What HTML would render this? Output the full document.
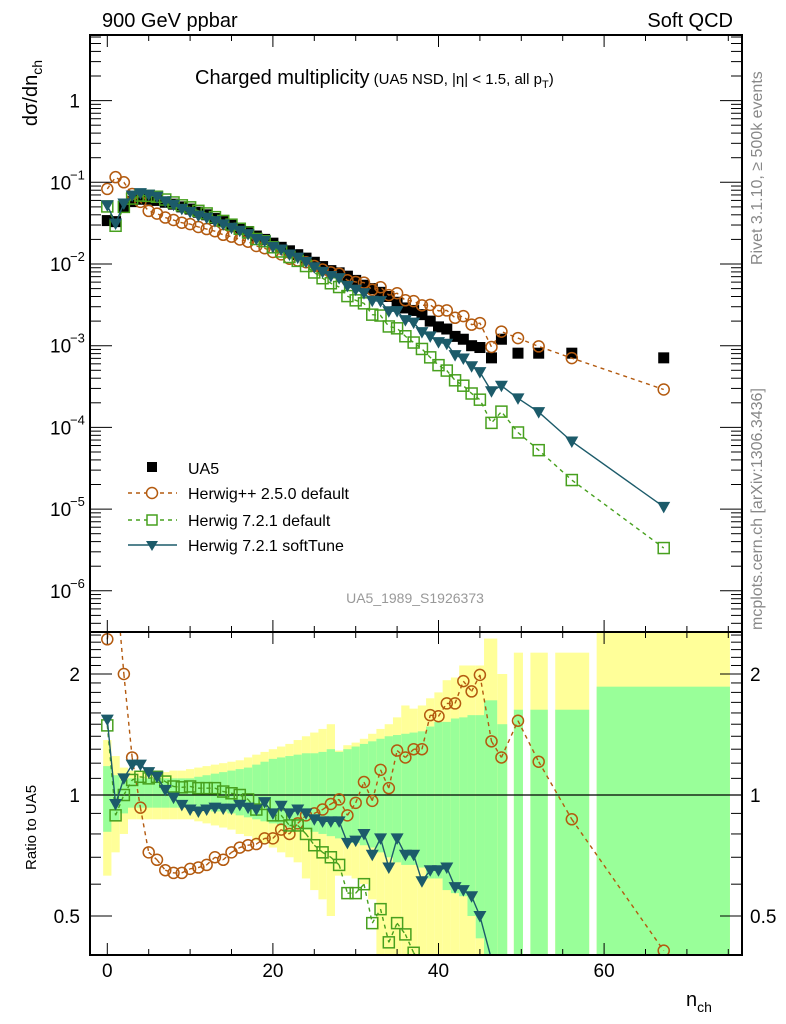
<!DOCTYPE html>
<html><head><meta charset="utf-8"><style>
html,body{margin:0;padding:0;background:#fff;width:786px;height:1024px;overflow:hidden}
svg{font-family:"Liberation Sans",sans-serif;display:block}
</style></head><body>
<svg id="c" width="786" height="1024" viewBox="0 0 786 1024" xmlns="http://www.w3.org/2000/svg" style="position:absolute;left:0;top:0"></svg>
<script>
const xs=[0,1,2,3,4,5,6,7,8,9,10,11,12,13,14,15,16,17,18,19,20,21,22,23,24,25,26,27,28,29,30,31,32,33,34,35,36,37,38,39,40,41,42,43,44,45,46.4,47.6,49.6,52.1,56.1,67.2];
const binLo=[-0.5,0.5,1.5,2.5,3.5,4.5,5.5,6.5,7.5,8.5,9.5,10.5,11.5,12.5,13.5,14.5,15.5,16.5,17.5,18.5,19.5,20.5,21.5,22.5,23.5,24.5,25.5,26.5,27.5,28.5,29.5,30.5,31.5,32.5,33.5,34.5,35.5,36.5,37.5,38.5,39.5,40.5,41.5,42.5,43.5,44.5,45.5,47.1,49.1,51.1,54.1,59.1];
const binHi=[0.5,1.5,2.5,3.5,4.5,5.5,6.5,7.5,8.5,9.5,10.5,11.5,12.5,13.5,14.5,15.5,16.5,17.5,18.5,19.5,20.5,21.5,22.5,23.5,24.5,25.5,26.5,27.5,28.5,29.5,30.5,31.5,32.5,33.5,34.5,35.5,36.5,37.5,38.5,39.5,40.5,41.5,42.5,43.5,44.5,45.5,47.1,48.3,50.2,53.2,58.2,75.2];
const ua5=[0.034,0.033,0.05,0.058,0.062,0.062,0.06,0.057,0.054,0.05,0.047,0.043,0.040,0.036,0.033,0.030,0.027,0.025,0.022,0.020,0.018,0.016,0.0145,0.013,0.0118,0.0105,0.0093,0.0083,0.0078,0.0071,0.0063,0.0055,0.0050,0.0045,0.0040,0.0034,0.0029,0.0027,0.0024,0.0020,0.0017,0.0016,0.0013,0.0012,0.0010,0.00095,0.00071,0.0012,0.00081,0.00081,0.00081,0.00071];
const rHwpp=[2.44,3.5,2.0,1.24,0.93,0.72,0.69,0.65,0.64,0.64,0.655,0.66,0.67,0.70,0.69,0.72,0.74,0.75,0.755,0.78,0.78,0.82,0.80,0.85,0.89,0.90,0.92,0.95,0.975,0.89,0.956,1.077,0.967,1.155,1.04,1.29,1.24,1.30,1.30,1.58,1.57,1.69,1.69,1.92,1.81,1.99,1.36,1.24,1.53,1.21,0.87,0.41];
const rHw721=[1.49,0.89,1.0,1.09,1.11,1.10,1.11,1.08,1.05,1.045,1.05,1.04,1.04,1.04,1.02,1.01,1.0,0.975,0.92,0.95,0.89,0.89,0.84,0.84,0.80,0.75,0.72,0.70,0.67,0.57,0.57,0.60,0.48,0.52,0.43,0.48,0.45,0.405,0.38,0.36,0.34,0.31,0.29,0.27,0.26,0.23,0.16,0.13,0.107,0.065,0.028,0.0047];
const rSoft=[1.54,0.95,1.10,1.19,1.19,1.14,1.11,1.03,0.985,0.945,0.92,0.91,0.92,0.93,0.925,0.925,0.945,0.93,0.92,0.96,0.90,0.94,0.90,0.92,0.90,0.87,0.86,0.86,0.86,0.76,0.77,0.80,0.71,0.78,0.66,0.78,0.71,0.71,0.61,0.65,0.65,0.66,0.59,0.58,0.56,0.50,0.39,0.27,0.28,0.19,0.083,0.015];
const yHi=[1.37,1.25,1.17,1.15,1.14,1.14,1.14,1.14,1.15,1.15,1.16,1.17,1.18,1.19,1.2,1.21,1.22,1.24,1.26,1.28,1.30,1.32,1.34,1.37,1.40,1.43,1.46,1.50,1.29,1.33,1.35,1.38,1.42,1.46,1.50,1.56,1.67,1.64,1.67,1.74,1.80,1.93,1.96,2.1,2.1,2.1,2.45,2.0,2.26,2.26,2.26,3.0];
const yLo=[0.63,0.72,0.80,0.87,0.87,0.87,0.87,0.87,0.87,0.87,0.87,0.86,0.85,0.84,0.83,0.82,0.80,0.79,0.77,0.76,0.74,0.72,0.70,0.68,0.62,0.58,0.55,0.50,0.63,0.63,0.62,0.60,0.55,0.3,0.3,0.3,0.3,0.3,0.3,0.3,0.3,0.3,0.3,0.3,0.3,0.3,0.3,0.3,0.3,0.3,0.3,0.3];
const gHi=[1.18,1.12,1.09,1.10,1.10,1.10,1.10,1.10,1.10,1.10,1.10,1.11,1.12,1.13,1.14,1.15,1.16,1.17,1.19,1.21,1.23,1.24,1.25,1.26,1.27,1.27,1.28,1.30,1.28,1.30,1.32,1.34,1.36,1.38,1.40,1.41,1.42,1.43,1.44,1.48,1.52,1.52,1.55,1.56,1.58,1.58,1.72,1.5,1.63,1.63,1.63,1.86];
const gLo=[0.81,0.86,0.90,0.93,0.93,0.93,0.93,0.93,0.93,0.93,0.93,0.92,0.92,0.91,0.91,0.90,0.89,0.88,0.87,0.86,0.85,0.84,0.83,0.82,0.82,0.81,0.80,0.79,0.78,0.77,0.76,0.75,0.74,0.72,0.70,0.68,0.67,0.67,0.66,0.62,0.62,0.58,0.57,0.56,0.50,0.44,0.3,0.3,0.3,0.3,0.3,0.3];
const xTickLabels=[0,20,40,60];
const yTickLabels=["1","10","10","10","10","10","10"];

const NS="http://www.w3.org/2000/svg",svg=document.getElementById('c');
const L=90,R=742,T=35,MB=632,B=955;
const X=v=>107.3+8.28*v;
const Y=v=>100.6-81.7*Math.log10(v);
const RY=r=>795-121*Math.log2(r);
function el(tag,a,parent){const e=document.createElementNS(NS,tag);for(const k in a)e.setAttribute(k,a[k]);(parent||svg).appendChild(e);return e;}
const defs=el('defs',{});
const cp1=el('clipPath',{id:'cm'},defs);el('rect',{x:L,y:T,width:R-L,height:MB-T},cp1);
const cp2=el('clipPath',{id:'cr'},defs);el('rect',{x:L,y:MB,width:R-L,height:B-MB},cp2);
const gMain=el('g',{'clip-path':'url(#cm)'});


const gRat=el('g',{'clip-path':'url(#cr)'});



function clipLine(pts,ymin,ymax){
  // returns path d, clipping each segment to [ymin,ymax]
  let d='';
  for(let i=0;i<pts.length-1;i++){
    let [x0,y0]=pts[i],[x1,y1]=pts[i+1];
    if((y0<ymin&&y1<ymin)||(y0>ymax&&y1>ymax))continue;
    const cl=(xa,ya,xb,yb)=>{
      if(ya<ymin){const t=(ymin-ya)/(yb-ya);return [xa+t*(xb-xa),ymin];}
      if(ya>ymax){const t=(ymax-ya)/(yb-ya);return [xa+t*(xb-xa),ymax];}
      return [xa,ya];
    };
    const a=cl(x0,y0,x1,y1),b=cl(x1,y1,x0,y0);
    d+=`M${a[0].toFixed(2)},${a[1].toFixed(2)}L${b[0].toFixed(2)},${b[1].toFixed(2)}`;
  }
  return d;
}

for(let i=0;i<xs.length;i++){
  const x0=X(binLo[i]),x1=X(Math.min(binHi[i],75.3));
  const yt=Math.max(MB,RY(yHi[i])),ybt=Math.min(B,RY(yLo[i]));
  const yb=el('rect',{x:x0,y:yt,width:x1-x0,height:ybt-yt,fill:'#ffff99'},gRat);
  
  
  const gt=Math.max(MB,RY(gHi[i])),gbt=Math.min(B,RY(gLo[i]));
  const gb=el('rect',{x:x0,y:gt,width:x1-x0,height:gbt-gt,fill:'#99ff99'},gRat);
  
  
}
const one=el('line',{x1:L,x2:R,y1:RY(1),y2:RY(1),stroke:'#000','stroke-width':1.3},gRat);



const series=[
 {name:'herwigpp-250',r:rHwpp,col:'#b35a0f',dash:'4,4',m:'circle'},
 {name:'herwig-721-default',r:rHw721,col:'#47a01e',dash:'4,4',m:'square'},
 {name:'herwig-721-softtune',r:rSoft,col:'#1c5b6a',dash:'',m:'tri'}
];
function marker(g,m,x,y,col,nm){
  let e;
  if(m==='circle')e=el('circle',{cx:x,cy:y,r:5.5,fill:'none',stroke:col,'stroke-width':1.5},g);
  else if(m==='square')e=el('rect',{x:x-5.5,y:y-5.5,width:11,height:11,fill:'none',stroke:col,'stroke-width':1.5},g);
  else if(m==='tri')e=el('path',{d:`M${x-6.5},${y-5}L${x+6.5},${y-5}L${x},${y+6.5}Z`,fill:col},g);
  else e=el('rect',{x:x-5.5,y:y-5.5,width:11,height:11,fill:col},g);
  
  
}
for(let i=0;i<xs.length;i++){marker(gMain,'ua5',X(xs[i]),Y(ua5[i]),'#000','ua5-point');}
series.forEach(s=>{
  const pm=xs.map((x,i)=>X(x)+','+Y(ua5[i]*s.r[i])).join(' ');
  const l1=el('polyline',{points:pm,fill:'none',stroke:s.col,'stroke-width':1.4,'stroke-dasharray':s.dash},gMain);
  
  
  const pr=xs.map((x,i)=>[X(x),RY(s.r[i])]);
  const l2=el('path',{d:clipLine(pr,MB-8,B+8),fill:'none',stroke:s.col,'stroke-width':1.4,'stroke-dasharray':s.dash},gRat);
  
  
  for(let i=0;i<xs.length;i++){
    marker(gMain,s.m,X(xs[i]),Y(ua5[i]*s.r[i]),s.col,s.name+'-point');
    const ry=RY(s.r[i]);
    if(ry>MB-8&&ry<B+8)marker(gRat,s.m,X(xs[i]),ry,s.col,s.name+'-ratio-point');
  }
});
const f1=el('rect',{x:L,y:T,width:R-L,height:MB-T,fill:'none',stroke:'#000','stroke-width':2});

const f2=el('rect',{x:L,y:MB,width:R-L,height:B-MB,fill:'none',stroke:'#000','stroke-width':2});

for(let v=0;v<=75;v+=5){
  const len=v%20===0?12:6,x=X(v);
  [[T,1],[MB,-1],[MB,1],[B,-1]].forEach(([y,d])=>{
    const t=el('line',{x1:x,x2:x,y1:y,y2:y+d*len,stroke:'#000','stroke-width':1});
    
  });
}
xTickLabels.forEach(v=>{
  const t=el('text',{x:X(v),y:977,'font-size':19,'text-anchor':'middle'});t.textContent=v;
  
});
for(let d=-7;d<=0;d++){
  for(let k=1;k<=9;k++){
    const y=Y(k*Math.pow(10,d));if(y<T||y>MB)continue;
    const len=k===1?22:11;
    [[L,1],[R,-1]].forEach(([x,s])=>{const t=el('line',{x1:x,x2:x+s*len,y1:y,y2:y,stroke:'#000','stroke-width':1});
      });
  }
}
yTickLabels.forEach((lab,i)=>{
  const y=Y(Math.pow(10,-i));
  const t=el('text',{x:i===0?80:50,y:y+7,'font-size':19,'text-anchor':i===0?'end':'start'});t.textContent=lab;
  
  if(i>0){const s=el('text',{x:70,y:y-3,'font-size':13});s.textContent='−'+i;
    }
});
[0.4,0.5,0.6,0.7,0.8,0.9,1,1.1,1.2,1.3,1.4,1.5,1.6,1.7,1.8,1.9,2,2.1,2.2,2.3,2.4,2.5].forEach(r=>{
  const y=RY(r);if(y<MB||y>B)return;const maj=(r===0.5||r===1||r===2);const len=maj?22:11;
  [[L,1],[R,-1]].forEach(([x,s])=>{const t=el('line',{x1:x,x2:x+s*len,y1:y,y2:y,stroke:'#000','stroke-width':1});
    });
});
[["2",2],["1",1],["0.5",0.5]].forEach(([lab,r])=>{
  const a=el('text',{x:80,y:RY(r)+7,'font-size':19,'text-anchor':'end'});a.textContent=lab;
  
  const b=el('text',{x:750,y:RY(r)+7,'font-size':19});b.textContent=lab;
  
});
</script>
<svg width="786" height="1024" style="position:absolute;left:0;top:0" xmlns="http://www.w3.org/2000/svg" font-family="Liberation Sans, sans-serif">
<text x="102" y="27" font-size="20">900 GeV ppbar</text>
<text x="733" y="27" font-size="20" text-anchor="end">Soft QCD</text>
<text transform="translate(37,60) rotate(-90)" font-size="20" text-anchor="end">dσ/dn<tspan font-size="14" dy="5">ch</tspan></text>
<text x="195" y="84" font-size="20">Charged multiplicity<tspan font-size="15"> (UA5 NSD, |η| &lt; 1.5, all p</tspan><tspan font-size="11" dy="4">T</tspan><tspan font-size="15" dy="-4">)</tspan></text>
<text transform="translate(762,265) rotate(-90)" font-size="16" fill="#888">Rivet 3.1.10, ≥ 500k events</text>
<text transform="translate(762,630) rotate(-90)" font-size="16" fill="#888">mcplots.cern.ch [arXiv:1306.3436]</text>
<text x="415" y="603" font-size="14" fill="#999" text-anchor="middle">UA5_1989_S1926373</text>
<text transform="translate(36,870) rotate(-90)" font-size="15">Ratio to UA5</text>
<text x="686" y="1006" font-size="20">n<tspan font-size="14" dy="6">ch</tspan></text>
<g>
<rect x="147" y="462" width="10" height="10" fill="#000"/>
<text x="188" y="474" font-size="16">UA5</text>
<line x1="128" x2="177" y1="493" y2="493" stroke="#b35a0f" stroke-dasharray="4,4" stroke-width="1.4"/>
<circle cx="152" cy="493" r="5.5" fill="#fff" stroke="#b35a0f" stroke-width="1.5"/>
<text x="188" y="499" font-size="16">Herwig++ 2.5.0 default</text>
<line x1="128" x2="177" y1="520" y2="520" stroke="#47a01e" stroke-dasharray="4,4" stroke-width="1.4"/>
<rect x="147" y="515" width="10" height="10" fill="#fff" stroke="#47a01e" stroke-width="1.5"/>
<text x="188" y="526" font-size="16">Herwig 7.2.1 default</text>
<line x1="128" x2="177" y1="545" y2="545" stroke="#1c5b6a" stroke-width="1.4"/>
<path d="M146,541L158,541L152,551Z" fill="#1c5b6a"/>
<text x="188" y="551" font-size="16">Herwig 7.2.1 softTune</text>
</g>
</svg>
</body></html>
